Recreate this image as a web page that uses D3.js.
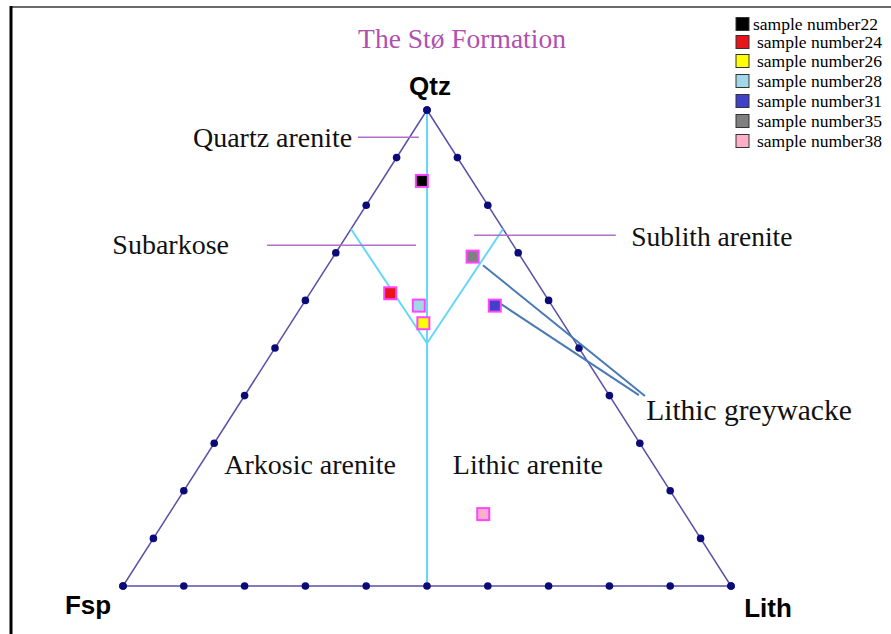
<!DOCTYPE html>
<html>
<head>
<meta charset="utf-8">
<script src="https://cdn.jsdelivr.net/npm/d3@7"></script>
<style>
  html, body { margin: 0; padding: 0; background: #fff; }
  svg { display: block; }
</style>
</head>
<body>
<svg id="chart" width="891" height="634"></svg>
<script>
// QFL composition of the Stø Formation samples (percent)
const samples  = ["sample number22", "sample number24", "sample number26", "sample number28",
                  "sample number31", "sample number35", "sample number38"];
const quartz   = [85.1, 61.5, 55.2, 58.9, 58.9, 69.2, 15.1];
const feldspar = [8.3, 25.3, 23.0, 21.9, 9.4, 7.9, 33.2];
const lithics  = [6.6, 13.2, 21.8, 19.2, 31.7, 22.9, 51.7];
const colors   = ["#000000", "#e8141c", "#ffff00", "#a0d8e8", "#4040c8", "#808080", "#ffb0c8"];

// Edge tick positions (percent along each side)
const tickPercents = [0, 10, 20, 30, 40, 50, 60, 70, 80, 90, 100];

// Classification boundaries as [Q, F, L] percentages
const boundaryLines = [
  [[100, 0, 0], [0, 50, 50]],
  [[75, 25, 0], [51, 24.5, 24.5]],
  [[51, 24.5, 24.5], [75, 0, 25]]
];

// Field names, anchored at [Q, F, L] (may lie outside the triangle)
const fieldNames   = ["Quartz arenite", "Subarkose", "Sublith arenite", "Arkosic arenite", "Lithic arenite", "Lithic greywacke"];
const fieldAnchors = [[92.2, 42.4, -34.6], [69.7, 66.9, -36.6], [71.4, -19.3, 47.9],
                      [23.5, 71.6, 4.9], [23.5, 34.0, 42.5], [34.9, -3.5, 68.6]];
const fieldSizes   = [28, 28, 27.5, 28, 28, 29.5];

// Leader lines from field names into the diagram
const leaderLines = [
  { color: "#b070c8", width: 1.5, pts: [[[94.3, 14.2, -8.5], [94.3, 4.2, 1.5]]] },
  { color: "#b070c8", width: 1.5, pts: [[[71.6, 40.5, -12.1], [71.6, 16.0, 12.4]]] },
  { color: "#b070c8", width: 1.5, pts: [[[73.7, 5.4, 20.9], [73.7, -17.9, 44.2]]] },
  { color: "#4a7ab4", width: 2, pts: [[[67.4, 7.1, 25.5], [39.9, -5.8, 65.9]],
                                      [[59.2, 8.2, 32.6], [40.1, -4.9, 64.8]]] }
];

const svg = d3.select("#chart");

// Cartesian frame of the ternary diagram
const x = d3.scaleLinear().domain([0, 1]).range([123, 731]);
const y = d3.scaleLinear().domain([0, 1]).range([586, 110]);
function project(q, f, l) {
  const s = q + f + l;
  const qq = q / s, ll = l / s;
  return [x(ll + qq / 2), y(qq)];
}
const projectArr = d => project(d[0], d[1], d[2]);

// Page frame (top and left rules)
svg.append("line").attr("x1", 10).attr("x2", 891).attr("y1", 7).attr("y2", 7)
  .attr("stroke", "#6a6a6a").attr("stroke-width", 2);
svg.append("line").attr("x1", 11).attr("x2", 11).attr("y1", 6).attr("y2", 634)
  .attr("stroke", "#000").attr("stroke-width", 3);

// Title
svg.append("text").attr("x", 462).attr("y", 48).attr("text-anchor", "middle")
  .attr("font-family", "Liberation Serif, Times New Roman, serif").attr("font-size", 27.5)
  .attr("fill", "#b050b0").text("The Stø Formation");

// Triangle outline
const corners = [[100, 0, 0], [0, 100, 0], [0, 0, 100]];
svg.append("path")
  .attr("d", d3.line()(corners.map(projectArr)) + "Z")
  .attr("fill", "none").attr("stroke", "#5a50a8").attr("stroke-width", 1.5);

// Classification boundaries
svg.append("g").selectAll("line").data(boundaryLines).join("line")
  .attr("x1", d => projectArr(d[0])[0]).attr("y1", d => projectArr(d[0])[1])
  .attr("x2", d => projectArr(d[1])[0]).attr("y2", d => projectArr(d[1])[1])
  .attr("stroke", "#66d8f6").attr("stroke-width", 2);

// Tick dots on the three sides
const tickPts = [];
tickPercents.forEach(p => {
  tickPts.push(project(p, 100 - p, 0));   // Qtz-Fsp side
  tickPts.push(project(p, 0, 100 - p));   // Qtz-Lith side
  tickPts.push(project(0, p, 100 - p));   // Fsp-Lith side
});
svg.append("g").selectAll("circle").data(tickPts).join("circle")
  .attr("cx", d => d[0]).attr("cy", d => d[1]).attr("r", 3.8)
  .attr("fill", "#0a0a78");

// Leader lines
leaderLines.forEach(g => {
  svg.append("g").selectAll("line").data(g.pts).join("line")
    .attr("x1", d => projectArr(d[0])[0]).attr("y1", d => projectArr(d[0])[1])
    .attr("x2", d => projectArr(d[1])[0]).attr("y2", d => projectArr(d[1])[1])
    .attr("stroke", g.color).attr("stroke-width", g.width);
});

// Field names
svg.append("g").selectAll("text").data(fieldNames).join("text")
  .attr("x", (d, i) => projectArr(fieldAnchors[i])[0])
  .attr("y", (d, i) => projectArr(fieldAnchors[i])[1])
  .attr("font-family", "Liberation Serif, Times New Roman, serif")
  .attr("font-size", (d, i) => fieldSizes[i])
  .attr("fill", "#111").text(d => d);

// Corner labels
const cornerLabels = [["Qtz", 430, 95], ["Fsp", 88, 614], ["Lith", 768, 617]];
svg.append("g").selectAll("text").data(cornerLabels).join("text")
  .attr("x", d => d[1]).attr("y", d => d[2]).attr("text-anchor", "middle")
  .attr("font-family", "Liberation Sans, Arial, sans-serif").attr("font-weight", "bold")
  .attr("font-size", 26).attr("fill", "#000").text(d => d[0]);

// Sample points
const pts = samples.map((s, i) => ({ name: s, c: colors[i], p: project(quartz[i], feldspar[i], lithics[i]) }));
const ms = 12;
svg.append("g").selectAll("rect").data(pts).join("rect")
  .attr("x", d => d.p[0] - ms / 2).attr("y", d => d.p[1] - ms / 2)
  .attr("width", ms).attr("height", ms)
  .attr("fill", d => d.c).attr("stroke", "#ff44ff").attr("stroke-width", 2);

// Legend
const legendY = [24, 42, 61, 81, 101, 121, 141];
const legend = svg.append("g").selectAll("g").data(pts).join("g")
  .attr("transform", (d, i) => `translate(0,${legendY[i]})`);
legend.append("rect").attr("x", 736).attr("y", -6.5)
  .attr("width", 13).attr("height", 13).attr("fill", d => d.c)
  .attr("stroke", "#333").attr("stroke-width", 1);
legend.append("text").attr("x", (d, i) => i === 0 ? 753 : 757).attr("y", 6)
  .attr("font-family", "Liberation Serif, Times New Roman, serif").attr("font-size", 17.5)
  .attr("fill", "#000").text(d => d.name);
</script>
</body>
</html>
